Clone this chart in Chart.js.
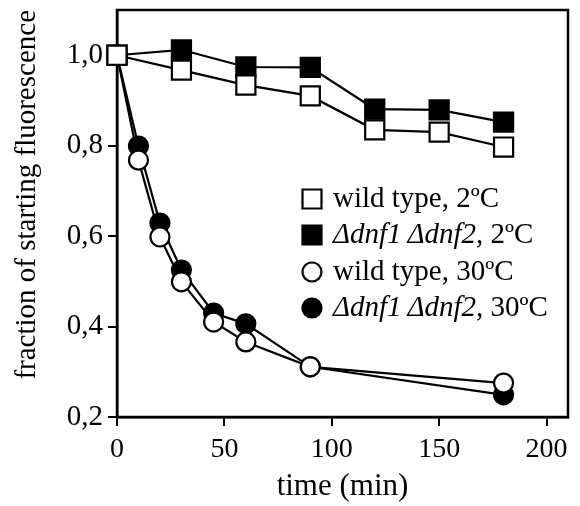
<!DOCTYPE html>
<html>
<head>
<meta charset="utf-8">
<script src="https://cdn.jsdelivr.net/npm/chart.js@4/dist/chart.umd.min.js"></script>
<style>
  body { margin: 0; background: #fff; }
  canvas { display: block; }
</style>
</head>
<body>
<canvas id="grafico" width="580" height="506"></canvas>
<script>
// Tiempos (min)
const tiempos2 = [0, 30, 60, 90, 120, 150, 180];
const tiempos30 = [0, 10, 20, 30, 45, 60, 90, 180];

// Fracción de fluorescencia inicial
const wt2 = [1.0, 0.967, 0.934, 0.910, 0.835, 0.830, 0.797];
const mut2 = [1.0, 1.012, 0.974, 0.973, 0.881, 0.879, 0.852];
const wt30 = [1.0, 0.768, 0.598, 0.499, 0.410, 0.366, 0.311, 0.275];
const mut30 = [1.0, 0.799, 0.629, 0.525, 0.430, 0.406, 0.311, 0.249];

// Ticks
const xTicks = [0, 50, 100, 150, 200];
const yTicks = [0.2, 0.4, 0.6, 0.8, 1.0];

// Leyenda: [parte cursiva, parte normal]
const leyenda = [
    ['', 'wild type, 2\u00baC'],
    ['\u0394dnf1\u2009\u0394dnf2', ', 2\u00baC'],
    ['', 'wild type, 30\u00baC'],
    ['\u0394dnf1\u2009\u0394dnf2', ', 30\u00baC']
];

const FUENTE = '"Liberation Serif", "Times New Roman", serif';

function puntos(xs, ys) {
    return xs.map((x, i) => ({ x: x, y: ys[i] }));
}

function serie(label, xs, ys, estilo, relleno) {
    return {
        label: label,
        data: puntos(xs, ys),
        borderColor: '#000',
        borderWidth: 2.2,
        pointStyle: estilo,
        pointRadius: estilo === 'rect' ? 13.5 : 9.5,
        pointBorderWidth: 2.2,
        pointBackgroundColor: relleno,
        pointBorderColor: '#000',
        tension: 0,
        fill: false,
        clip: false
    };
}

// Marco superior y derecho del área del gráfico
const marco = {
    id: 'marco',
    beforeDatasetsDraw(chart) {
        const a = chart.chartArea;
        const ctx = chart.ctx;
        ctx.save();
        ctx.strokeStyle = '#000';
        ctx.lineWidth = 2.5;
        ctx.strokeRect(a.left, a.top, a.right - a.left, a.bottom - a.top);
        ctx.restore();
    }
};

// Leyenda con texto cursivo mezclado
const leyendaPlugin = {
    id: 'leyendaPlugin',
    afterDatasetsDraw(chart) {
        const ctx = chart.ctx;
        const xSimbolo = 312;
        const xTexto = 333;
        const filas = [199, 235, 272, 308];
        ctx.save();
        chart.data.datasets.forEach((ds, i) => {
            const y = filas[i];
            ctx.lineWidth = 2.2;
            ctx.strokeStyle = '#000';
            ctx.fillStyle = ds.pointBackgroundColor;
            ctx.beginPath();
            if (ds.pointStyle === 'rect') {
                ctx.rect(xSimbolo - 9.5, y - 9.5, 19, 19);
            } else {
                ctx.arc(xSimbolo, y, 9.5, 0, Math.PI * 2);
            }
            ctx.fill();
            ctx.stroke();

            ctx.fillStyle = '#000';
            ctx.textBaseline = 'middle';
            ctx.textAlign = 'left';
            let x = xTexto;
            const [cursiva, normal] = leyenda[i];
            if (cursiva) {
                ctx.font = 'italic 29px ' + FUENTE;
                ctx.fillText(cursiva, x, y);
                x += ctx.measureText(cursiva).width;
            }
            ctx.font = '29px ' + FUENTE;
            ctx.fillText(normal, x, y);
        });
        ctx.restore();
    }
};

const ctx = document.getElementById('grafico');

new Chart(ctx, {
    type: 'line',
    data: {
        datasets: [
            serie('wild type, 2ºC', tiempos2, wt2, 'rect', '#fff'),
            serie('Δdnf1Δdnf2, 2ºC', tiempos2, mut2, 'rect', '#000'),
            serie('wild type, 30ºC', tiempos30, wt30, 'circle', '#fff'),
            serie('Δdnf1Δdnf2, 30ºC', tiempos30, mut30, 'circle', '#000')
        ]
    },
    options: {
        responsive: false,
        animation: false,
        layout: { autoPadding: false, padding: { top: 10, right: 12, left: 0, bottom: 0 } },
        plugins: {
            legend: { display: false },
            tooltip: { enabled: false }
        },
        scales: {
            x: {
                type: 'linear',
                min: 0,
                max: 210,
                afterBuildTicks: (scale) => { scale.ticks = xTicks.map(v => ({ value: v })); },
                afterFit: (scale) => {
                    scale.height = 89;
                    scale.paddingLeft = 0;
                    scale.paddingRight = 0;
                },
                border: { display: true, color: '#000', width: 2.5 },
                grid: { display: true, drawOnChartArea: false, drawTicks: true, tickLength: 9, color: '#000', lineWidth: 2 },
                ticks: {
                    color: '#000',
                    padding: 7,
                    maxRotation: 0,
                    font: { family: FUENTE, size: 28 }
                },
                title: {
                    display: true,
                    text: 'time (min)',
                    color: '#000',
                    padding: { top: 0, bottom: 1 },
                    font: { family: FUENTE, size: 31 }
                }
            },
            y: {
                min: 0.2,
                max: 1.1,
                afterBuildTicks: (scale) => { scale.ticks = yTicks.map(v => ({ value: v })); },
                afterFit: (scale) => {
                    scale.width = 117;
                    scale.paddingTop = 0;
                    scale.paddingBottom = 0;
                },
                border: { display: true, color: '#000', width: 2.5 },
                grid: { display: true, drawOnChartArea: false, drawTicks: true, tickLength: 9, color: '#000', lineWidth: 2 },
                ticks: {
                    color: '#000',
                    padding: 5,
                    font: { family: FUENTE, size: 29 },
                    callback: (v) => v.toFixed(1).replace('.', ',')
                },
                title: {
                    display: true,
                    text: 'fraction of starting fluorescence',
                    color: '#000',
                    align: 'end',
                    padding: { top: 10, bottom: 0 },
                    font: { family: FUENTE, size: 29 }
                }
            }
        }
    },
    plugins: [marco, leyendaPlugin]
});
</script>
</body>
</html>
